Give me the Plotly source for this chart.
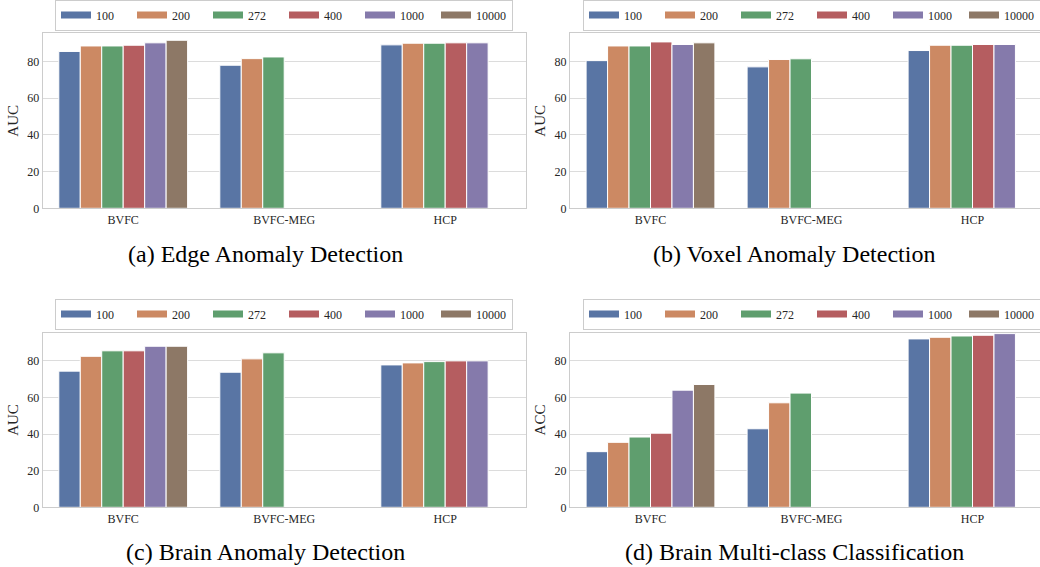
import plotly.graph_objects as go

categories = ["BVFC", "BVFC-MEG", "HCP"]
sizes = ["100", "200", "272", "400", "1000", "10000"]

# values per size, order: BVFC, BVFC-MEG, HCP (None = missing)
edge = {
    "100": [85.5, 78.0, 89.1],
    "200": [88.5, 81.6, 90.0],
    "272": [88.5, 82.5, 90.0],
    "400": [88.9, None, 90.2],
    "1000": [90.2, None, 90.2],
    "10000": [91.6, None, None],
}
voxel = {
    "100": [80.5, 77.1, 86.0],
    "200": [88.5, 81.1, 88.9],
    "272": [88.5, 81.5, 88.9],
    "400": [90.7, None, 89.3],
    "1000": [89.3, None, 89.3],
    "10000": [90.2, None, None],
}
brain = {
    "100": [74.4, 73.8, 77.8],
    "200": [82.5, 81.1, 78.9],
    "272": [85.5, 84.4, 79.6],
    "400": [85.5, None, 80.0],
    "1000": [88.0, None, 80.0],
    "10000": [88.0, None, None],
}
multiclass = {
    "100": [30.4, 42.9, 92.0],
    "200": [35.5, 57.1, 92.9],
    "272": [38.4, 62.4, 93.6],
    "400": [40.5, None, 94.0],
    "1000": [64.0, None, 94.9],
    "10000": [67.1, None, None],
}

colors = ["#5975a4", "#cc8963", "#5f9e6e", "#b55d60", "#857aab", "#8d7866"]
ylabels = ["AUC", "AUC", "AUC", "ACC"]
captions = ["(a) Edge Anomaly Detection", "(b) Voxel Anomaly Detection",
            "(c) Brain Anomaly Detection", "(d) Brain Multi-class Classification"]
panels = [edge, voxel, brain, multiclass]

W, H = 1040, 567
FONT = "Liberation Serif"
TXT = "#262626"
GRID = "#dcdcdc"
SPINE = "#cccccc"

# pixel layout of each panel: left, right, top, bottom, legend left, legend center y
geom = [
    (42.7, 525.7, 33.3, 208.3, 55, 15),
    (570.0, 1040.0, 33.3, 208.3, 583, 15),
    (42.7, 525.7, 332.7, 507.3, 55, 314),
    (570.0, 1040.0, 332.7, 507.3, 583, 314),
]
cap_pos = [(265, 254), (794, 254), (265, 552), (794, 552)]

fig = go.Figure()
layout = dict(
    width=W, height=H, margin=dict(l=0, r=0, t=0, b=0, autoexpand=False),
    plot_bgcolor="white", paper_bgcolor="white",
    barmode="group", bargap=0.2, bargroupgap=0,
    font=dict(family=FONT, color=TXT, size=12),
    annotations=[],
)

px_per_unit = (525.7 - 42.7) / 3.0

for i, data in enumerate(panels):
    n = i + 1
    xa = "x" if n == 1 else f"x{n}"
    ya = "y" if n == 1 else f"y{n}"
    leg = "legend" if n == 1 else f"legend{n}"
    for s, c in zip(sizes, colors):
        fig.add_trace(go.Bar(
            x=categories, y=data[s], name=s,
            marker=dict(color=c, line=dict(color="white", width=1)),
            xaxis=xa, yaxis=ya, showlegend=False,
        ))
    for s, c in zip(sizes, colors):
        fig.add_trace(go.Scatter(
            x=[None], y=[None], name=s, mode="lines",
            line=dict(color=c, width=7),
            xaxis=xa, yaxis=ya, legend=leg, showlegend=True,
        ))
    l, r, t, b, lx, ly = geom[i]
    xr_right = -0.5 + (r - l) / px_per_unit
    cropped = r >= W
    layout[f"xaxis{'' if n == 1 else n}"] = dict(
        domain=[l / W, r / W], anchor=ya, range=[-0.5, xr_right],
        showgrid=False, showline=True, linecolor=SPINE, linewidth=1,
        mirror=True, ticks="", tickfont=dict(size=12, family=FONT, color=TXT),
    )
    layout[f"yaxis{'' if n == 1 else n}"] = dict(
        domain=[1 - b / H, 1 - t / H], anchor=xa, range=[0, 95.4],
        tickvals=[0, 20, 40, 60, 80], showgrid=True, gridcolor=GRID, gridwidth=1,
        showline=True, linecolor=SPINE, linewidth=1, mirror=not cropped,
        ticks="", zeroline=False,
        tickfont=dict(size=12, family=FONT, color=TXT),
        title=dict(text=ylabels[i], font=dict(size=15, family=FONT, color=TXT), standoff=5),
    )
    layout[leg] = dict(
        orientation="h", x=lx / W, y=1 - ly / H, xanchor="left", yanchor="middle",
        xref="paper", yref="paper",
        bgcolor="white", bordercolor=SPINE, borderwidth=1,
        entrywidth=31, entrywidthmode="pixels",
        font=dict(size=12, family=FONT, color=TXT), tracegroupgap=0,
        itemwidth=30,
    )
    cx, cy = cap_pos[i]
    layout["annotations"].append(dict(
        text=captions[i], x=cx / W, y=1 - cy / H, xref="paper", yref="paper",
        xanchor="center", yanchor="middle", showarrow=False,
        font=dict(size=24, family=FONT, color="black"),
    ))

fig.update_layout(**layout)
fig.write_html(
    "out.html",
    config={"displayModeBar": False},
    post_script="document.body.style.margin='0';document.body.style.overflow='hidden';",
)
